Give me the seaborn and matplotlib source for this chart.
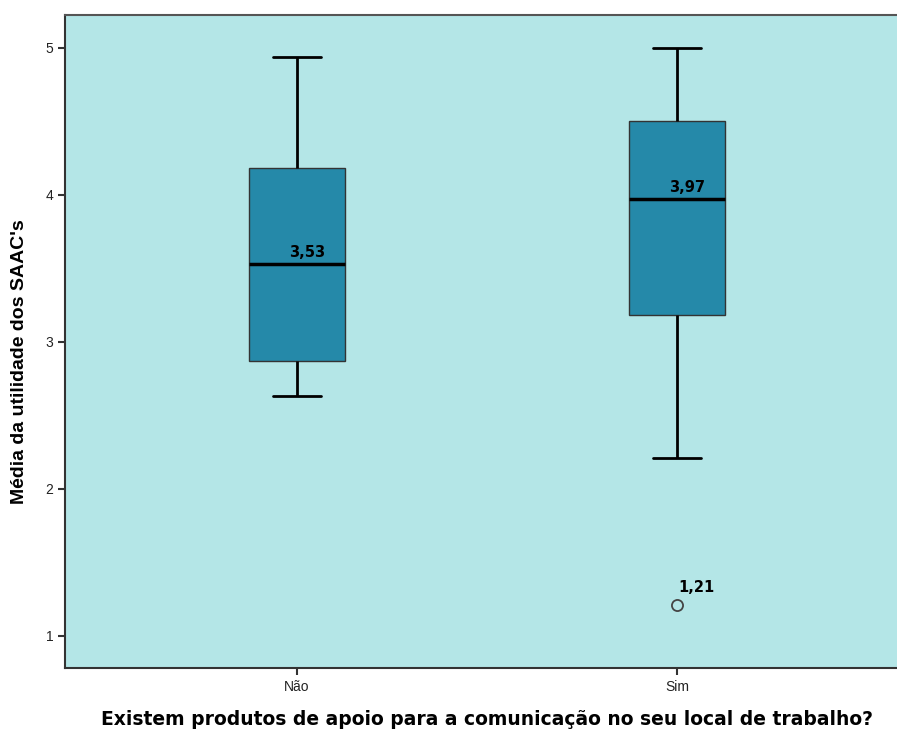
import matplotlib
matplotlib.use("Agg")
import matplotlib.pyplot as plt
import seaborn as sns
import pandas as pd

# Five-number summaries per group (min, Q1, median, Q3, max) plus outliers
groups = ["Não", "Sim"]
nao_values = [2.63, 2.87, 3.53, 4.18, 4.94]
sim_values = [1.21, 2.21, 3.18, 3.18, 3.97, 4.50, 4.50, 5.00, 5.00]
median_labels = ["3,53", "3,97"]
medians = [3.53, 3.97]
outlier_value = 1.21
outlier_label = "1,21"
y_ticks = [1, 2, 3, 4, 5]

df = pd.DataFrame({
    "grupo": [groups[0]] * len(nao_values) + [groups[1]] * len(sim_values),
    "valor": nao_values + sim_values,
})

sns.set_style("ticks")
plt.rcParams["font.family"] = ["Liberation Sans", "DejaVu Sans"]

W, H = 897, 731
fig = plt.figure(figsize=(W / 100, H / 100), dpi=100)
ax = fig.add_axes([65 / W, (H - 668) / H, 844 / W, 653 / H])
ax.set_facecolor("#b4e6e7")

sns.boxplot(
    data=df, x="grupo", y="valor", order=groups, ax=ax,
    whis=1.0, width=0.253, color="#2589a9", saturation=1,
    boxprops=dict(edgecolor="#333333", linewidth=1.0, facecolor="#2589a9"),
    whiskerprops=dict(color="black", linewidth=2.0),
    capprops=dict(color="black", linewidth=2.0),
    medianprops=dict(color="black", linewidth=2.5),
    flierprops=dict(marker="o", markersize=8, markerfacecolor="none",
                    markeredgecolor="#444444", markeredgewidth=1.3),
)

ax.set_xlim(-0.61, 1.61)
ax.set_ylim(0.782, 5.224)
ax.set_yticks(y_ticks)
ax.set_yticklabels([str(t) for t in y_ticks])

for i, (m, lab) in enumerate(zip(medians, median_labels)):
    ax.text(i + 0.026, m + 0.03, lab, ha="center", va="bottom",
            fontsize=10.5, fontweight="bold", color="black",
            family="DejaVu Sans")
ax.text(1.003, outlier_value + 0.07, outlier_label, ha="left", va="bottom",
        fontsize=10.5, fontweight="bold", color="black", family="DejaVu Sans")

for side in ["left", "bottom", "top"]:
    ax.spines[side].set_visible(True)
    ax.spines[side].set_color("#333333")
    ax.spines[side].set_linewidth(1.5)
ax.spines["top"].set_color("#555555")
ax.spines["right"].set_visible(False)

ax.tick_params(axis="both", length=5, width=1.5, color="#333333",
               labelsize=10, labelcolor="#222222", direction="out")

ax.set_xlabel("")
ax.set_ylabel("Média da utilidade dos SAAC's", fontsize=14, fontweight="bold",
              color="black")
ax.yaxis.set_label_coords(-(65 - 28) / 844, (668 - 362) / 653)

fig.text(487 / W, 1 - 710 / H,
         "Existem produtos de apoio para a comunicação no seu local de trabalho?",
         ha="center", va="top", fontsize=13.5, fontweight="bold", color="black",
         family="DejaVu Sans")

fig.savefig("out.png", dpi=100)
